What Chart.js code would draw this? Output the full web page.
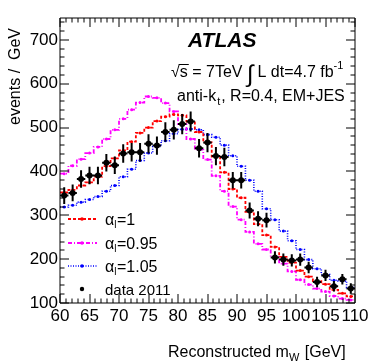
<!DOCTYPE html>
<html>
<head>
<meta charset="utf-8">
<script src="https://cdn.jsdelivr.net/npm/chart.js@4"></script>
<style>
  html, body { margin: 0; padding: 0; background: #fff; }
  #wrap { width: 374px; height: 364px; position: relative; }
</style>
</head>
<body>
<div id="wrap"><canvas id="c" width="374" height="364"></canvas></div>
<script>
// histogram binning (GeV)
const xMin = 60, xMax = 110, nBins = 35;

// data 2011, events / GeV
const dataVals = [345, 351, 383, 391, 391, 420, 414, 441, 444, 444, 463, 459, 490, 495, 508,
                  514, 453, 466, 435, 433, 380, 380, 311, 292, 289, 204, 199, 197, 199, 181,
                  148, 163, 138, 154, 133];
const dataErr = [19, 19, 20, 20, 20, 20, 20, 21, 21, 21, 22, 21, 22, 22, 23,
                 23, 21, 22, 21, 21, 19, 19, 18, 17, 17, 14, 14, 14, 14, 13,
                 12, 13, 12, 12, 12];

// templates
const alpha1 = [352, 358, 368, 375, 388, 412, 430, 448, 468, 488, 500, 515, 525, 530, 528,
                514, 490, 466, 434, 398, 360, 340, 308, 280, 255, 228, 205, 192, 174, 160,
                150, 143, 130, 122, 115];
const alpha095 = [395, 413, 428, 442, 456, 474, 495, 520, 541, 557, 571, 568, 556, 537, 508,
                  474, 450, 427, 390, 355, 320, 290, 262, 235, 222, 205, 190, 172, 153, 142,
                  133, 126, 116, 110, 107];
const alpha105 = [319, 323, 330, 336, 343, 355, 368, 388, 405, 425, 442, 457, 470, 486, 496,
                  497, 495, 484, 478, 460, 436, 412, 380, 355, 315, 290, 264, 242, 222, 199,
                  178, 165, 152, 150, 135];

const xTicks = [60, 65, 70, 75, 80, 85, 90, 95, 100, 105, 110];
const yTicks = [100, 200, 300, 400, 500, 600, 700];

const FONT = '"Liberation Sans", Arial, Helvetica, sans-serif';
const binW = (xMax - xMin) / nBins;
const centers = dataVals.map((_, i) => xMin + (i + 0.5) * binW);

function histPoints(vals) {
  const pts = [{ x: xMin, y: vals[0] }];
  vals.forEach((v, i) => pts.push({ x: centers[i], y: v }));
  pts.push({ x: xMax, y: vals[vals.length - 1] });
  return pts;
}

function histSet(label, vals, color, dash, width) {
  return {
    label: label,
    data: histPoints(vals),
    showLine: true,
    stepped: 'middle',
    borderColor: color,
    backgroundColor: color,
    borderWidth: width,
    borderDash: dash,
    pointRadius: c => (c.dataIndex === 0 || c.dataIndex === vals.length + 1) ? 0 : 1.5,
    pointBorderWidth: 0,
    fill: false
  };
}

const series = [
  { name: '=1', color: '#ff0000', dash: [3, 2], width: 1.8, vals: alpha1 },
  { name: '=0.95', color: '#ff00ff', dash: [4, 2, 1, 2], width: 1.8, vals: alpha095 },
  { name: '=1.05', color: '#0000ff', dash: [1, 1.5], width: 1.6, vals: alpha105 }
];

// frame, inner ticks, error bars, labels
const decor = {
  id: 'decor',
  afterDatasetsDraw(chart) {
    const { ctx, scales: { x, y } } = chart;
    ctx.save();
    ctx.strokeStyle = '#000';
    ctx.lineWidth = 2;
    ctx.beginPath();
    dataVals.forEach((v, i) => {
      const cx = x.getPixelForValue(centers[i]);
      const cy = y.getPixelForValue(v);
      ctx.moveTo(cx, y.getPixelForValue(v - dataErr[i]));
      ctx.lineTo(cx, y.getPixelForValue(v + dataErr[i]));
      ctx.moveTo(x.getPixelForValue(centers[i] - binW / 2), cy);
      ctx.lineTo(x.getPixelForValue(centers[i] + binW / 2), cy);
    });
    ctx.stroke();
    ctx.restore();
  },
  afterDraw(chart) {
    const { ctx, chartArea: a, scales: { x, y } } = chart;
    ctx.save();
    ctx.strokeStyle = '#000';
    ctx.lineWidth = 1;
    ctx.beginPath();
    ctx.rect(Math.round(a.left), Math.round(a.top), Math.round(a.right - a.left), Math.round(a.bottom - a.top));
    for (let v = xMin; v <= xMax; v += 1) {
      const px = Math.round(x.getPixelForValue(v));
      const len = v % 5 === 0 ? 9 : 4.5;
      ctx.moveTo(px, a.bottom); ctx.lineTo(px, a.bottom - len);
      ctx.moveTo(px, a.top); ctx.lineTo(px, a.top + len);
    }
    for (let v = 100; v <= 740; v += 20) {
      const py = Math.round(y.getPixelForValue(v));
      const len = v % 100 === 0 ? 9 : 4.5;
      ctx.moveTo(a.left, py); ctx.lineTo(a.left + len, py);
      ctx.moveTo(a.right, py); ctx.lineTo(a.right - len, py);
    }
    ctx.stroke();

    ctx.fillStyle = '#000';
    ctx.textBaseline = 'alphabetic';

    // axis titles
    ctx.save();
    ctx.translate(20, 28);
    ctx.rotate(-Math.PI / 2);
    ctx.textAlign = 'right';
    ctx.font = '16px ' + FONT;
    ctx.fillText('events /  GeV', 0, 0);
    ctx.restore();

    ctx.textAlign = 'left';
    let tx = 168;
    ctx.font = '16px ' + FONT;
    ctx.fillText('Reconstructed m', tx, 357);
    tx += ctx.measureText('Reconstructed m').width;
    ctx.font = '11px ' + FONT;
    ctx.fillText('W', tx, 361);
    tx += ctx.measureText('W').width + 1;
    ctx.font = '16px ' + FONT;
    ctx.fillText(' [GeV]', tx, 357);

    // ATLAS label
    ctx.font = 'italic bold 21px ' + FONT;
    ctx.fillText('ATLAS', 188, 47);

    // energy / lumi line
    ctx.font = '16px ' + FONT;
    let lx = 171;
    ctx.fillText('\u221A', lx, 77);
    lx += ctx.measureText('\u221A').width;
    ctx.beginPath();
    ctx.moveTo(lx - 1, 64.5); ctx.lineTo(lx + 9, 64.5);
    ctx.stroke();
    ctx.fillText('s = 7TeV ', lx, 77);
    lx += ctx.measureText('s = 7TeV ').width;
    ctx.font = '24px ' + FONT;
    ctx.fillText('\u222B', lx, 82);
    lx += ctx.measureText('\u222B').width + 4;
    ctx.font = '16px ' + FONT;
    ctx.fillText('L dt=4.7 fb', lx, 77);
    lx += ctx.measureText('L dt=4.7 fb').width;
    ctx.font = '11px ' + FONT;
    ctx.fillText('-1', lx, 69);

    // jet line
    ctx.font = '16px ' + FONT;
    let jx = 177;
    ctx.fillText('anti-k', jx, 101);
    jx += ctx.measureText('anti-k').width + 1;
    ctx.font = '11px ' + FONT;
    ctx.fillText('t', jx, 105);
    jx += ctx.measureText('t').width + 1;
    ctx.font = '16px ' + FONT;
    ctx.fillText(', R=0.4, EM+JES', jx, 101);

    // legend
    const ly = [219, 243, 266];
    series.forEach((s, i) => {
      ctx.strokeStyle = s.color;
      ctx.fillStyle = s.color;
      ctx.lineWidth = s.width;
      ctx.setLineDash(s.dash);
      ctx.beginPath();
      ctx.moveTo(68, ly[i]); ctx.lineTo(97, ly[i]);
      ctx.stroke();
      ctx.setLineDash([]);
      ctx.beginPath();
      ctx.arc(82, ly[i], 1.8, 0, Math.PI * 2);
      ctx.fill();
      ctx.fillStyle = '#000';
      let ex = 105;
      ctx.font = '16px ' + FONT;
      ctx.fillText('\u03B1', ex, ly[i] + 6);
      ex += ctx.measureText('\u03B1').width;
      ctx.font = '10px ' + FONT;
      ctx.fillText('l', ex, ly[i] + 9);
      ex += ctx.measureText('l').width + 0.5;
      ctx.font = '16px ' + FONT;
      ctx.fillText(s.name, ex, ly[i] + 6);
    });
    ctx.fillStyle = '#000';
    ctx.beginPath();
    ctx.arc(82, 289, 2.2, 0, Math.PI * 2);
    ctx.fill();
    ctx.font = '15px ' + FONT;
    ctx.fillText('data 2011', 105, 295);
    ctx.restore();
  }
};

const datasets = [{
  label: 'data 2011',
  data: dataVals.map((v, i) => ({ x: centers[i], y: v })),
  showLine: false,
  pointRadius: 3,
  pointBackgroundColor: '#000',
  pointBorderColor: '#000',
  pointBorderWidth: 0
}].concat(series.map(s => histSet(s.name, s.vals, s.color, s.dash, s.width)));

new Chart(document.getElementById('c'), {
  type: 'scatter',
  data: { datasets: datasets },
  options: {
    responsive: false,
    animation: false,
    devicePixelRatio: 1,
    layout: { padding: { top: 18, right: 19, left: 0, bottom: 0 } },
    plugins: { legend: { display: false }, tooltip: { enabled: false } },
    scales: {
      x: {
        type: 'linear', min: xMin, max: xMax,
        afterFit: s => { s.height = 61; },
        afterBuildTicks: s => { s.ticks = xTicks.map(v => ({ value: v })); },
        grid: { display: false, drawTicks: false },
        border: { display: false },
        ticks: { autoSkip: false, maxRotation: 0, minRotation: 0, padding: 3, color: '#000',
                 font: { size: 17, family: FONT } }
      },
      y: {
        type: 'linear', min: 100, max: 750,
        afterFit: s => { s.width = 60; },
        afterBuildTicks: s => { s.ticks = yTicks.map(v => ({ value: v })); },
        grid: { display: false, drawTicks: false },
        border: { display: false },
        ticks: { padding: 2, color: '#000', font: { size: 17, family: FONT } }
      }
    }
  },
  plugins: [decor]
});
</script>
</body>
</html>
